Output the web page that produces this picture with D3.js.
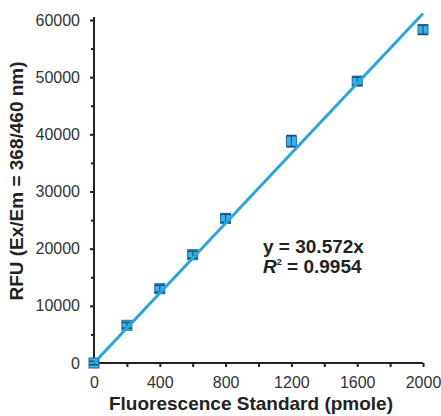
<!DOCTYPE html>
<html><head><meta charset="utf-8">
<script src="https://cdn.jsdelivr.net/npm/d3@7"></script>
<style>
html,body{margin:0;padding:0;background:#fff;}
svg{display:block;font-family:"Liberation Sans",Arial,sans-serif;}
</style></head>
<body><svg id="c" width="441" height="416"></svg>
<script>
const pmole = [0, 200, 400, 600, 800, 1200, 1600, 2000];
const rfu = [0, 6600, 13000, 18950, 25300, 38800, 49300, 58300];
const rfuErr = [300, 500, 600, 600, 700, 1000, 700, 800];
const slope = 30.572;
const xTicks = [0, 400, 800, 1200, 1600, 2000];
const xMinor = [200, 600, 1000, 1400, 1800];
const yTicks = [0, 10000, 20000, 30000, 40000, 50000, 60000];
const yMinor = [5000, 15000, 25000, 35000, 45000, 55000];
const xTitle = "Fluorescence Standard (pmole)";
const yTitle = "RFU (Ex/Em = 368/460 nm)";

const svg = d3.select("#c");
const x = d3.scaleLinear().domain([0, 2000]).range([94, 423]);
const y = d3.scaleLinear().domain([0, 60000]).range([363, 20]);

// axes
const axCol = "#222";
const gx = svg.append("g").attr("transform", `translate(0,${y(0)})`)
  .call(d3.axisBottom(x).tickValues(xTicks).tickSize(4).tickPadding(10).tickFormat(d3.format("d")));
const gxm = svg.append("g").attr("transform", `translate(0,${y(0)})`)
  .call(d3.axisBottom(x).tickValues(xMinor).tickSize(4).tickFormat(""));
gxm.select(".domain").remove();
const gy = svg.append("g").attr("transform", `translate(${x(0)},0)`)
  .call(d3.axisLeft(y).tickValues(yTicks).tickSize(4).tickPadding(10).tickFormat(d3.format("d")));
const gym = svg.append("g").attr("transform", `translate(${x(0)},0)`)
  .call(d3.axisLeft(y).tickValues(yMinor).tickSize(3).tickFormat(""));
gym.select(".domain").remove();
[gx, gxm, gy, gym].forEach(g => {
  g.selectAll(".domain").attr("stroke", axCol).attr("stroke-width", 2);
  g.selectAll(".tick line").attr("stroke", axCol).attr("stroke-width", 2);
  g.selectAll(".tick text").attr("fill", "#333").attr("font-size", 16)
    .attr("font-family", "'Liberation Sans',Arial,sans-serif");
});
gy.select(".domain").attr("d", `M0,${y(60000)-3}V${y(0)}`);
gx.select(".domain").attr("d", `M${x(0)},0H${x(2000)}`);

// markers with error bars
const mk = svg.append("g");
pmole.forEach((p, i) => {
  const cx = x(p), cy = y(rfu[i]);
  mk.append("rect").attr("x", cx - 5).attr("y", cy - 5).attr("width", 10).attr("height", 10)
    .attr("fill", "#3ab2e8").attr("stroke", "#1b6ea5").attr("stroke-width", 1);
  const t = y(rfu[i] + rfuErr[i]), b = y(rfu[i] - rfuErr[i]);
  mk.append("line").attr("x1", cx).attr("x2", cx).attr("y1", t).attr("y2", b)
    .attr("stroke", "#1a5a88").attr("stroke-width", 1.2);
  [t, b].forEach(yy => mk.append("line").attr("x1", cx - 5).attr("x2", cx + 5)
    .attr("y1", yy).attr("y2", yy).attr("stroke", "#1a4f78").attr("stroke-width", 1.5));
});

// fit line
svg.append("line")
  .attr("x1", x(0)).attr("y1", y(0))
  .attr("x2", x(2000)).attr("y2", y(slope * 2000))
  .attr("stroke", "#2aa7d8").attr("stroke-width", 3);

// equation
svg.append("text").attr("x", 263).attr("y", 253).attr("font-size", 19).attr("font-weight", "bold")
  .attr("fill", "#222").text("y = 30.572x");
const r2 = svg.append("text").attr("x", 263).attr("y", 273).attr("font-size", 19)
  .attr("font-weight", "bold").attr("fill", "#222");
r2.append("tspan").attr("font-style", "italic").text("R");
r2.append("tspan").attr("font-size", 9).attr("dy", -8).text("2");
r2.append("tspan").attr("dy", 8).text(" = 0.9954");

// titles
svg.append("text").attr("x", 251).attr("y", 410).attr("text-anchor", "middle")
  .attr("font-size", 19).attr("font-weight", "bold").attr("fill", "#222").text(xTitle);
svg.append("text").attr("transform", `translate(23,${181}) rotate(-90)`).attr("text-anchor", "middle")
  .attr("font-size", 19).attr("font-weight", "bold").attr("fill", "#222").text(yTitle);
</script></body></html>
